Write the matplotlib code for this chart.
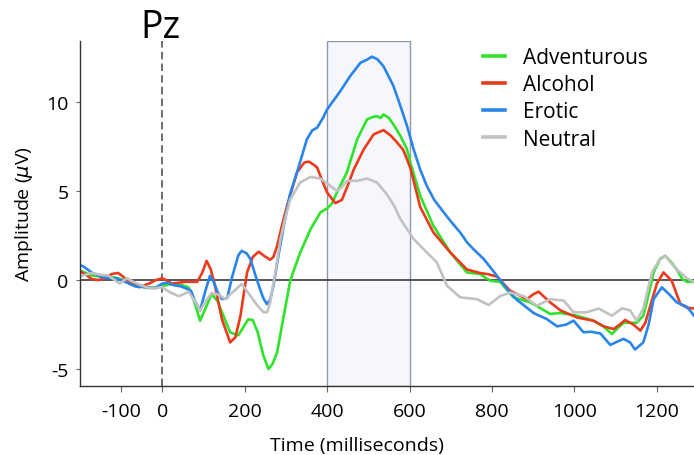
import matplotlib
matplotlib.use("Agg")
import matplotlib.pyplot as plt

plt.rcParams["font.family"] = ["Open Sans", "DejaVu Sans"]
plt.rcParams["axes.unicode_minus"] = False

# ERP at Pz (ms, microvolts)
adv_t = [-200, -185, -170, -150, -125, -100, -80, -60, -35, -15, 0, 15, 32, 50, 64, 78, 92, 105,
         120, 135, 145, 165, 185, 198, 209, 220, 232, 245, 258, 268, 279, 295, 311, 335, 360, 384,
         400, 412, 424, 448, 473, 497, 510, 521, 530, 537, 550, 561, 578, 594, 602, 626, 658, 699,
         739, 771, 796, 820, 852, 893, 941, 966, 1006, 1046, 1070, 1091, 1105, 1119, 1151, 1167,
         1180, 1192, 1208, 1220, 1235, 1248, 1262, 1273, 1290]
adv_v = [0.55, 0.4, 0.25, 0.2, 0.2, 0.05, -0.15, -0.3, -0.45, -0.4, -0.35, -0.25, -0.2, -0.3, -0.4,
         -1.2, -2.28, -1.6, -0.78, -1.2, -1.8, -2.94, -3.1, -2.6, -2.2, -2.25, -2.95, -4.2, -5.0,
         -4.7, -4.05, -2.0, 0.0, 1.55, 2.86, 3.8, 4.02, 4.3, 4.92, 6.04, 7.9, 9.02, 9.15, 9.2, 9.1,
         9.3, 9.1, 8.74, 8.09, 7.34, 6.6, 4.73, 3.04, 1.55, 0.43, 0.34, -0.04, -0.1, -0.97, -1.25,
         -1.9, -1.85, -2.0, -2.28, -2.6, -3.03, -2.7, -2.4, -2.4, -2.0, -0.8, 0.43, 1.2, 1.36, 1.0,
         0.6, 0.05, -0.1, -0.1]

alc_t = [-200, -185, -171, -155, -140, -122, -107, -95, -80, -56, -32, -15, 0, 10, 23, 40, 56, 85,
         97, 108, 118, 128, 145, 165, 178, 190, 206, 220, 234, 248, 262, 270, 279, 290, 303, 327,
         345, 356, 366, 376, 388, 400, 420, 436, 450, 465, 489, 513, 537, 555, 570, 585, 602, 626,
         658, 699, 739, 770, 788, 812, 844, 885, 900, 913, 941, 966, 1006, 1046, 1071, 1095, 1110,
         1123, 1143, 1160, 1172, 1184, 1200, 1216, 1236, 1257, 1273, 1290]
alc_v = [0.5, 0.3, 0.06, 0.0, 0.1, 0.34, 0.4, 0.2, -0.13, -0.4, -0.2, 0.0, 0.1, 0.0, -0.2, -0.15,
         -0.1, -0.1, 0.4, 1.08, 0.6, -0.3, -2.2, -3.5, -3.2, -2.0, 0.43, 1.3, 1.59, 1.35, 1.14, 1.3,
         1.92, 3.0, 4.17, 6.04, 6.6, 6.65, 6.5, 6.32, 5.6, 4.92, 4.32, 4.5, 5.3, 6.22, 7.34, 8.18,
         8.42, 8.1, 7.72, 7.3, 6.3, 4.1, 2.67, 1.55, 0.6, 0.4, 0.34, 0.2, -0.6, -1.07, -0.8, -0.65,
         -1.25, -1.7, -2.1, -2.28, -2.6, -2.75, -2.5, -2.24, -2.5, -2.84, -2.4, -1.44, -0.2, 0.43,
         -0.04, -1.35, -1.55, -1.6]

ero_t = [-200, -190, -171, -150, -130, -110, -90, -65, -40, -17, 0, 10, 31, 45, 56, 70, 80, 92, 105,
         116, 125, 135, 145, 158, 170, 185, 193, 205, 214, 230, 245, 254, 262, 270, 283, 295, 310,
         327, 351, 364, 376, 390, 400, 432, 456, 481, 495, 509, 522, 537, 561, 578, 594, 610, 626,
         642, 660, 683, 700, 723, 740, 755, 780, 800, 820, 840, 860, 901, 933, 958, 980, 998, 1022,
         1040, 1063, 1087, 1100, 1119, 1135, 1147, 1167, 1180, 1192, 1212, 1230, 1248, 1273, 1290]
ero_v = [0.85, 0.75, 0.43, 0.2, 0.1, 0.1, -0.1, -0.36, -0.4, -0.45, -0.2, -0.15, -0.3, -0.35, -0.45,
         -0.6, -1.2, -1.7, -0.6, 0.24, -0.1, -0.7, -1.07, -1.0, 0.2, 1.4, 1.64, 1.5, 1.18, 0.0, -1.0,
         -1.35, -1.1, -0.32, 1.5, 3.04, 4.8, 6.04, 7.9, 8.4, 8.56, 9.1, 9.58, 10.6, 11.45, 12.2,
         12.35, 12.54, 12.4, 12.0, 10.9, 9.77, 8.65, 7.34, 6.2, 5.28, 4.5, 3.8, 3.3, 2.67, 2.1, 1.74,
         1.18, 0.6, 0.0, -0.6, -1.1, -1.85, -2.19, -2.6, -2.5, -2.28, -2.93, -2.9, -3.0, -3.64, -3.5,
         -3.3, -3.5, -3.9, -3.5, -2.5, -1.07, -0.41, -0.8, -1.25, -1.5, -2.0]

neu_t = [-200, -185, -172, -150, -130, -115, -103, -85, -70, -50, -32, -15, 0, 20, 40, 52, 64, 80,
         92, 105, 120, 135, 153, 170, 193, 214, 230, 246, 255, 262, 275, 287, 300, 311, 335, 360,
         384, 408, 424, 435, 448, 473, 497, 521, 545, 562, 578, 610, 642, 666, 691, 723, 763, 792,
         820, 844, 877, 909, 941, 974, 998, 1030, 1059, 1091, 1115, 1135, 1151, 1167, 1188, 1205,
         1220, 1248, 1273, 1290]
neu_v = [0.2, 0.3, 0.4, 0.3, 0.25, 0.0, -0.2, 0.1, -0.1, -0.3, -0.45, -0.45, -0.4, -0.7, -0.9, -0.8,
         -0.65, -1.2, -1.72, -1.2, -0.73, -0.8, -1.07, -0.7, -0.22, -0.88, -1.4, -1.81, -1.8, -1.25,
         0.5, 2.3, 3.6, 4.54, 5.48, 5.79, 5.7, 5.29, 5.0, 5.2, 5.57, 5.57, 5.7, 5.48, 4.82, 4.2,
         3.42, 2.3, 1.55, 1.0, -0.32, -0.97, -1.07, -1.4, -0.9, -0.7, -0.9, -1.44, -1.07, -1.15,
         -1.81, -1.81, -1.6, -2.0, -1.59, -1.7, -2.28, -1.6, 0.43, 1.1, 1.36, 0.6, 0.1, -0.1]

labels = ["Adventurous", "Alcohol", "Erotic", "Neutral"]
colors = ["#2ee32a", "#ec3a1c", "#2a85ea", "#c2c2c2"]
xticks = [-100, 0, 200, 400, 600, 800, 1000, 1200]
yticks = [-5, 0, 5, 10]
window = (400, 600)

fig = plt.figure(figsize=(6.94, 4.56), dpi=100)
ax = fig.add_axes([0.1148, 0.152, 0.8852, 0.755])

# analysis window
ax.axvspan(window[0], window[1], facecolor="#f6f7fc", edgecolor="#8f98ab", lw=1.0, zorder=0)
ax.axhline(0, color="#3a3a3a", lw=1.2, zorder=1)
ax.axvline(0, color="#555555", lw=1.2, ls=(0, (4.5, 2.5)), zorder=1)

series = [(adv_t, adv_v), (alc_t, alc_v), (ero_t, ero_v), (neu_t, neu_v)]
for (t, v), lab, c in zip(series, labels, colors):
    ax.plot(t, v, color=c, lw=1.9, label=lab, zorder=2, solid_joinstyle="round")

ax.set_xlim(-200, 1290)
ax.set_ylim(-5.93, 13.4)
ax.set_xticks(xticks)
ax.set_yticks(yticks)

for side in ["top", "right"]:
    ax.spines[side].set_visible(False)
for side in ["left", "bottom"]:
    ax.spines[side].set_color("#333333")
    ax.spines[side].set_linewidth(1.0)

ax.tick_params(axis="x", length=4, width=0.8, color="#666666", pad=8, labelsize=14)
ax.tick_params(axis="y", length=3, width=0.8, color="#666666", pad=5, labelsize=14)

ax.set_xlabel("Time (milliseconds)", fontsize=14)
ax.xaxis.set_label_coords(0.451, -0.147)
ax.set_ylabel(r"Amplitude ($\mu$V)", fontsize=14)
ax.yaxis.set_label_coords(-0.072, 0.5)

fig.text(160 / 694, 1 - 38 / 456, "Pz", ha="center", va="baseline", fontsize=27)

ax.legend(loc="upper left", bbox_to_anchor=(483 / 694, 1 - 48 / 456),
          bbox_transform=fig.transFigure, frameon=False, fontsize=15,
          handlelength=1.05, handletextpad=0.85, labelspacing=0.3,
          borderpad=0, borderaxespad=0)
for line in ax.get_legend().get_lines():
    line.set_linewidth(2.6)

fig.savefig("out.png", dpi=100)
